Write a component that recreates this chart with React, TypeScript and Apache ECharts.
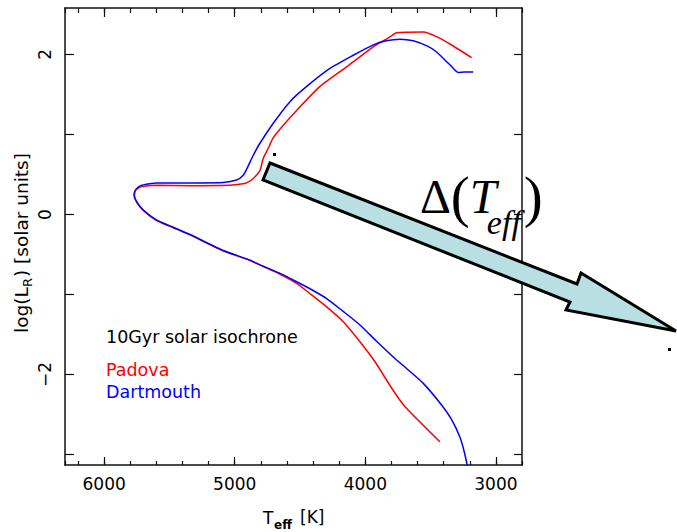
import React, { useEffect, useRef } from 'react';
import * as echarts from 'echarts';

const xMin = 2800;
const xMax = 6300;
const yMin = -3.13;
const yMax = 2.58;
const xMajorTicks = [3000, 4000, 5000, 6000];
const yTicks = [-3, -2, -1, 0, 1, 2];
const yLabels = [-2, 0, 2];

// Padova isochrone (Teff [K], log L)
const padova: [number, number][] = [
  [3429, -2.84], [3697, -2.40], [3790, -2.19], [3926, -1.84], [4041, -1.59],
  [4169, -1.34], [4296, -1.155], [4423, -0.99], [4526, -0.86], [4660, -0.74],
  [4807, -0.63], [4883, -0.575], [5088, -0.455], [5343, -0.255], [5471, -0.165],
  [5598, -0.075], [5700, 0.05], [5752, 0.155], [5772, 0.24], [5762, 0.30],
  [5720, 0.345], [5600, 0.365], [5343, 0.36], [5037, 0.366], [4950, 0.38],
  [4909, 0.395], [4858, 0.45], [4807, 0.55], [4782, 0.70], [4740, 0.84],
  [4705, 0.96], [4620, 1.13], [4526, 1.30], [4347, 1.60], [4143, 1.845],
  [3939, 2.095], [3820, 2.21], [3760, 2.27], [3556, 2.28], [3450, 2.22],
  [3352, 2.13], [3186, 1.96],
];

// Dartmouth isochrone (Teff [K], log L)
const dartmouth: [number, number][] = [
  [3205, -3.25], [3240, -2.98], [3276, -2.78], [3340, -2.56], [3416, -2.38],
  [3556, -2.11], [3680, -1.93], [3786, -1.78], [3920, -1.575], [4041, -1.38],
  [4170, -1.21], [4296, -1.05], [4410, -0.94], [4526, -0.84], [4660, -0.73],
  [4807, -0.63], [4883, -0.57], [5088, -0.45], [5343, -0.25], [5471, -0.16],
  [5598, -0.07], [5700, 0.054], [5751, 0.16], [5769, 0.24], [5758, 0.31],
  [5720, 0.36], [5650, 0.385], [5598, 0.395], [5343, 0.395], [5088, 0.40],
  [4986, 0.43], [4935, 0.49], [4905, 0.58], [4858, 0.74], [4807, 0.89],
  [4705, 1.14], [4577, 1.41], [4449, 1.60], [4271, 1.825],
  [4092, 1.99], [3939, 2.12], [3840, 2.17], [3735, 2.19], [3633, 2.17],
  [3520, 2.10], [3454, 2.03], [3352, 1.87], [3289, 1.775], [3237, 1.78],
  [3174, 1.78],
];

const legendTitle = '10Gyr solar isochrone';
const seriesNames = ['Padova', 'Dartmouth'];
const seriesColors = ['#ff0000', '#0000ff'];

const FONT = 'DejaVu Sans';
const SERIF = 'Liberation Serif';

export default function App() {
  const ref = useRef<HTMLDivElement>(null);
  useEffect(() => {
    if (!ref.current) return;
    const chart = echarts.init(ref.current, undefined, { renderer: 'svg' });
    const frame = { show: true, onZero: false, lineStyle: { color: '#111', width: 1.5 } };
    const noLine = { show: false, onZero: false };
    const tickStyle = { color: '#111', width: 1.2 };
    const baseX = {
      type: 'value' as const,
      min: xMin,
      max: xMax,
      inverse: true,
      splitLine: { show: false },
    };
    const baseY = {
      type: 'value' as const,
      min: yMin,
      max: yMax,
      splitLine: { show: false },
    };
    const option: any = {
      animation: false,
      backgroundColor: '#fff',
      grid: { left: 65, top: 8, width: 457, height: 457, containLabel: false },
      xAxis: [
        {
          ...baseX,
          position: 'bottom',
          interval: 200,
          axisLine: frame,
          axisTick: { inside: true, length: 4, lineStyle: tickStyle },
          axisLabel: {
            formatter: (v: number) => (v % 1000 === 0 ? String(v) : ''),
            fontSize: 17,
            fontFamily: FONT,
            color: '#000',
            margin: 10,
          },
        },
        {
          ...baseX,
          position: 'bottom',
          axisLine: noLine,
          axisTick: { inside: true, length: 8, lineStyle: tickStyle, customValues: xMajorTicks },
          axisLabel: { show: false },
        },
        {
          ...baseX,
          position: 'top',
          interval: 200,
          axisLine: frame,
          axisTick: { inside: true, length: 5, lineStyle: tickStyle },
          axisLabel: { show: false },
        },
        {
          ...baseX,
          position: 'top',
          axisLine: noLine,
          axisTick: { inside: true, length: 9, lineStyle: tickStyle, customValues: xMajorTicks },
          axisLabel: { show: false },
        },
      ],
      yAxis: [
        {
          ...baseY,
          position: 'left',
          axisLine: frame,
          axisTick: { inside: true, length: 9, lineStyle: tickStyle, customValues: yTicks },
          axisLabel: {
            customValues: yLabels,
            rotate: 90,
            fontSize: 17,
            fontFamily: FONT,
            color: '#000',
            margin: 12,
            formatter: (v: number) => String(v).replace('-', '\u2212'),
          },
        },
        {
          ...baseY,
          position: 'right',
          axisLine: frame,
          axisTick: { inside: true, length: 8, lineStyle: tickStyle, customValues: yTicks },
          axisLabel: { show: false },
        },
      ],
      series: [
        {
          name: seriesNames[0],
          type: 'line',
          data: padova,
          showSymbol: false,
          smooth: 0.2,
          clip: true,
          lineStyle: { color: seriesColors[0], width: 1.5 },
          z: 3,
        },
        {
          name: seriesNames[1],
          type: 'line',
          data: dartmouth,
          showSymbol: false,
          smooth: 0.2,
          clip: true,
          lineStyle: { color: seriesColors[1], width: 1.5 },
          z: 4,
        },
      ],
      graphic: [
        // legend texts
        {
          type: 'text', x: 106, y: 337, z: 50,
          style: { text: legendTitle, fontSize: 17.5, fontFamily: FONT, fill: '#000', verticalAlign: 'middle' },
        },
        {
          type: 'text', x: 106, y: 370, z: 50,
          style: { text: seriesNames[0], fontSize: 17.5, fontFamily: FONT, fill: seriesColors[0], verticalAlign: 'middle' },
        },
        {
          type: 'text', x: 106, y: 392, z: 50,
          style: { text: seriesNames[1], fontSize: 17.5, fontFamily: FONT, fill: seriesColors[1], verticalAlign: 'middle' },
        },
        // x axis name
        {
          type: 'text', x: 263, y: 518, z: 50,
          style: { text: 'T', fontSize: 17, lineHeight: 12, fontFamily: FONT, fill: '#000', verticalAlign: 'middle' },
        },
        {
          type: 'text', x: 274, y: 525, z: 50,
          style: { text: 'eff', fontSize: 12, lineHeight: 2, fontWeight: 'bold', fontFamily: FONT, fill: '#000', verticalAlign: 'middle' },
        },
        {
          type: 'text', x: 300, y: 517, z: 50,
          style: { text: '[K]', fontSize: 17, fontFamily: FONT, fill: '#000', verticalAlign: 'middle' },
        },
        // y axis name (rotated)
        {
          type: 'group', x: 21, y: 333, rotation: Math.PI / 2, z: 50,
          children: [
            {
              type: 'text', x: 0, y: 0,
              style: { text: 'log(L', fontSize: 18.5, fontFamily: FONT, fill: '#000', verticalAlign: 'middle' },
            },
            {
              type: 'text', x: 46, y: 6,
              style: { text: 'R', fontSize: 13, fontFamily: FONT, fill: '#000', verticalAlign: 'middle' },
            },
            {
              type: 'text', x: 56, y: 0,
              style: { text: ') [solar units]', fontSize: 18.5, fontFamily: FONT, fill: '#000', verticalAlign: 'middle' },
            },
          ],
        },
        // arrow annotation
        {
          type: 'polygon', z: 60,
          shape: {
            points: [
              [270, 163], [577, 284], [581, 273], [676, 331], [566, 310], [570, 302], [263, 180],
            ],
          },
          style: { fill: '#b8e0e2', stroke: '#000', lineWidth: 3, lineJoin: 'miter' },
        },
        { type: 'rect', z: 60, shape: { x: 273, y: 153, width: 3, height: 3 }, style: { fill: '#000' } },
        { type: 'rect', z: 60, shape: { x: 668, y: 348, width: 3, height: 3 }, style: { fill: '#000' } },
        // Delta(T_eff) as one rich text
        {
          type: 'text', x: 420, y: 196, z: 70,
          style: {
            text: '{d|\u0394}{p|(}{t|T}{s|eff}{p|)}',
            verticalAlign: 'middle',
            align: 'left',
            fill: '#000',
            fontFamily: SERIF,
            rich: {
              d: { fontSize: 48, lineHeight: 48, fontFamily: SERIF, fill: '#000', verticalAlign: 'middle' },
              p: { fontSize: 57, lineHeight: 86, fontFamily: SERIF, fill: '#000', verticalAlign: 'middle' },
              t: { fontSize: 48, lineHeight: 48, fontStyle: 'italic', fontFamily: SERIF, fill: '#000', width: 17, verticalAlign: 'middle' },
              s: { fontSize: 34, lineHeight: 34, fontStyle: 'italic', fontFamily: SERIF, fill: '#000', width: 37, verticalAlign: 'bottom' },
            },
          },
        },
      ],
    };
    chart.setOption(option);
    return () => chart.dispose();
  }, []);
  return (
    <div
      ref={ref}
      style={{ position: 'fixed', left: 0, top: 0, width: 677, height: 532, background: '#fff' }}
    />
  );
}
